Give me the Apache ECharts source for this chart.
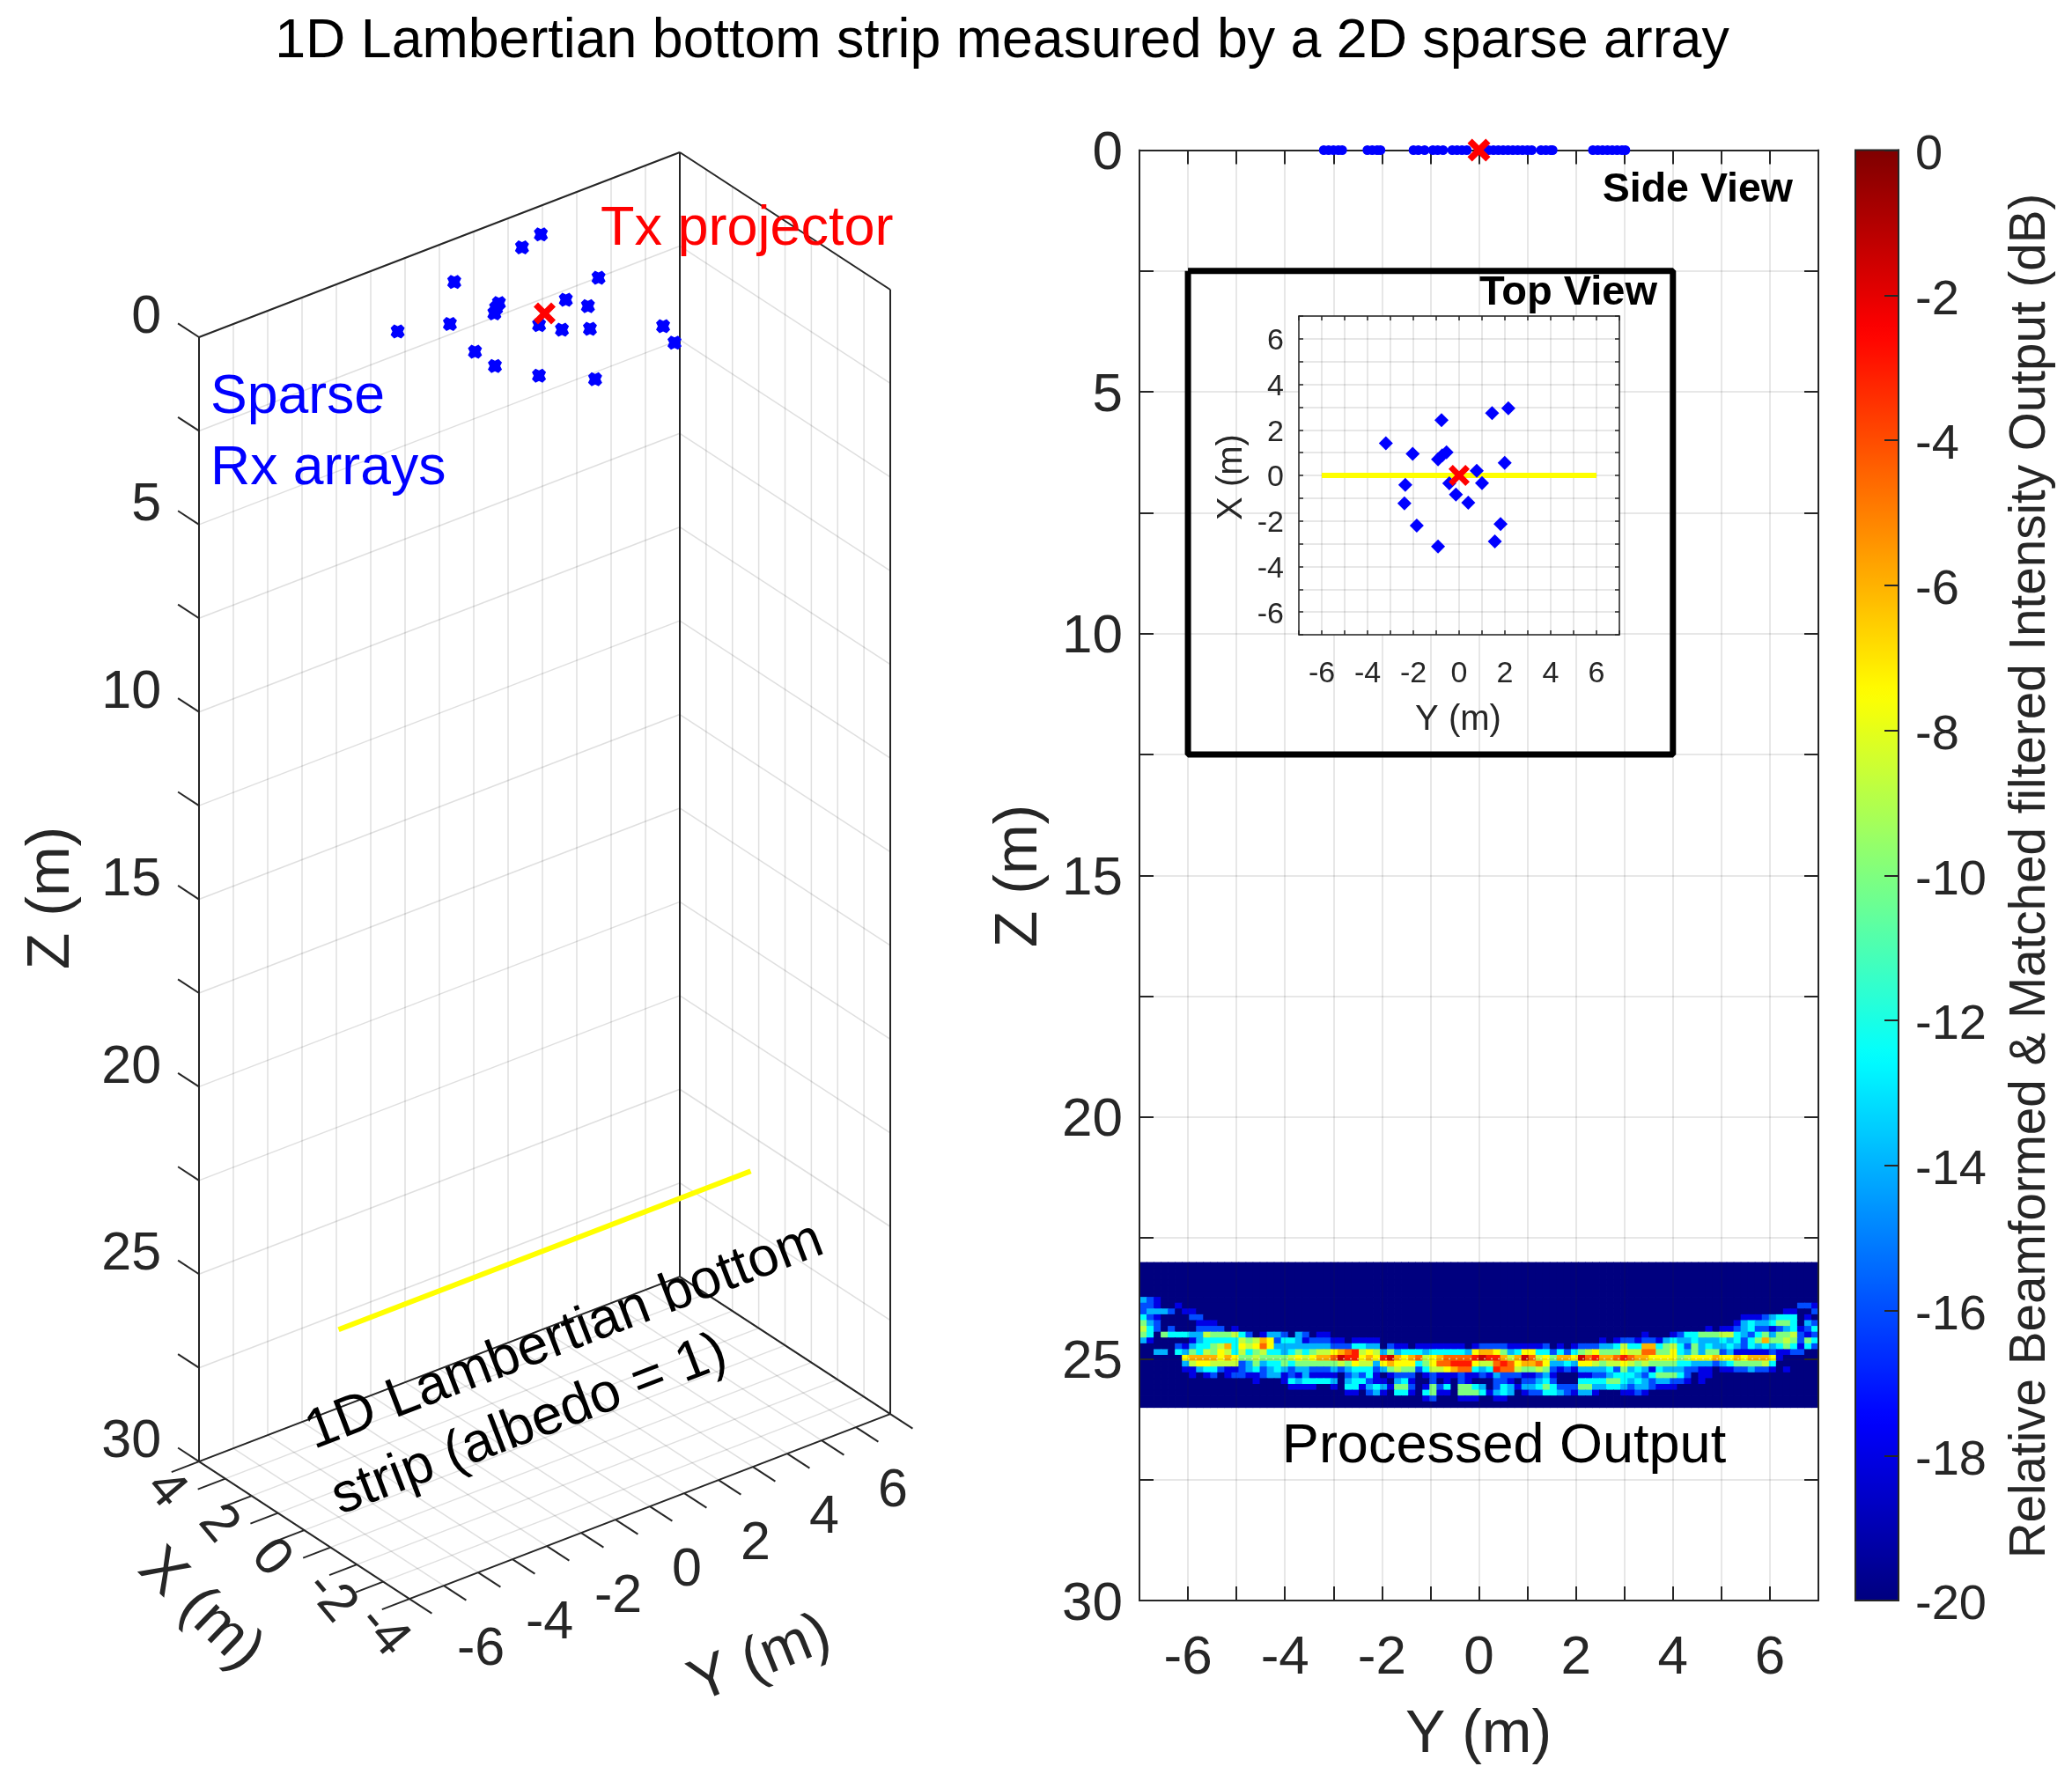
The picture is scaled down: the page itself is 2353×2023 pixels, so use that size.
<!DOCTYPE html>
<html>
<head>
<meta charset="utf-8">
<title>1D Lambertian bottom strip</title>
<script src="https://cdn.jsdelivr.net/npm/echarts@6/dist/echarts.min.js"></script>
<style>
html, body { margin: 0; padding: 0; background: #fff; }
#chart { width: 2353px; height: 2023px; }
</style>
</head>
<body>
<div id="chart"></div>
<script>
// Rx array centres, read from the top view
var rxY = [-3.2, -2.03, -0.77, 1.44, 2.15, -0.55, -0.74, -0.92, 1.99, 0.77, 1.0, -0.43, -2.35, -0.14, 0.4, -2.39, -1.85, 1.81, 1.56, -0.92];
var rxX = [1.41, 0.95, 2.43, 2.74, 2.95, 1.02, 0.88, 0.71, 0.55, 0.2, -0.34, -0.35, -0.42, -0.84, -1.2, -1.23, -2.2, -2.14, -2.9, -3.12];
// elements along Y in the side view
var sideY = [-3.2, -3.1, -3.0, -2.9, -2.82, -2.3, -2.2, -2.1, -2.03, -1.35, -1.25, -1.12, -0.95, -0.85, -0.74, -0.55, -0.45, -0.35, -0.25, 0.08, 0.2, 0.3, 0.4, 0.5, 0.6, 0.7, 0.8, 0.9, 1.0, 1.09, 1.28, 1.38, 1.48, 1.52, 2.35, 2.45, 2.55, 2.65, 2.75, 2.85, 2.95, 3.02];
var txPos = [0, 0, 0];
// bottom strip ends
var stripY = [-6, 6];
var stripX = [0, 0];
var stripZ = [25, 25];
// inset frame in the side view
var frameY = [-6, 4, 4, -6, -6];
var frameZ = [2.5, 2.5, 12.5, 12.5, 2.5];

var ticksX3d = [-4, -3, -2, -1, 0, 1, 2, 3, 4];
var ticksY3d = [-7, -6, -5, -4, -3, -2, -1, 0, 1, 2, 3, 4, 5, 6, 7];
var ticksZ3d = [0, 2.5, 5, 7.5, 10, 12.5, 15, 17.5, 20, 22.5, 25, 27.5, 30];
var labelsX3d = [4, 2, 0, -2, -4];
var labelsY3d = [-6, -4, -2, 0, 2, 4, 6];
var labelsZ3d = [0, 5, 10, 15, 20, 25, 30];

// heat map: 25 rows (Z 23 to 26) x 96 columns (Y -7 to 7), one letter per cell
var levelNames = '.abcdefghijk';
var levelDb = [-20, -18, -16, -14, -12.5, -10, -8.7, -7.5, -6, -4.5, -3, -1.5];
var blankRow = '................................';
var heatLeft = [
    blankRow, blankRow, blankRow, blankRow, blankRow,
    blankRow,
    'cba.............................',
    'bba..a..........................',
    'bcccb.aa........................',
    'dba....bb.......................',
    'ecb.....aaa.....................',
    'fdb.b...bbbb.a..................',
    'ed.edddccfeeefdb.accb.cb.aa.....',
    'ca.....acdddddfefhgbddcabbbaa.aa',
    '.....bacddefhdgfgigccccccccbbbdd',
    '..cc.dcedfegfdfdefddcdedeffghijf',
    '......ghhhhghgeefeeeefgfghhikjjg',
    '......cfggffffbcecddedeeeeeefegf',
    '......aacddbaabcdbcdcbccbbbcbcdd',
    '.......a.ab.abbaabccabacaaaa.bcb',
    '................a...adcddddc.cdd',
    '.....................aaaa..a.dda',
    '.............................aa.',
    blankRow,
    blankRow
];
var heatMid = [
    blankRow, blankRow, blankRow, blankRow, blankRow,
    blankRow, blankRow, blankRow, blankRow, blankRow, blankRow, blankRow, blankRow,
    'aa..............................',
    'cc.baa.aaaaaaa.abbbbaaaaab.a.abb',
    'gfcecdddcdddddcghhgecdggddbdbdef',
    'hgjkhghifghiiiijkjjhfhkifgehhgki',
    'fcghgggdegiijjjgffijighhigccdcgg',
    'dbcefeebdffghiidcdjiifeefebabacc',
    'da.abbb.abaaabaabacbbbaabca...aa',
    'baa.cda..b.a.ba...bba.bbcdb...dd',
    'cdcaeeb.aebd.eedc.bdcaccdedbbbee',
    'bca.dda.deaa.eeedacdc.abbddcbacc',
    '........ab...aaa..aa............',
    blankRow
];
var heatRight = [
    blankRow, blankRow, blankRow, blankRow, blankRow,
    blankRow,
    blankRow,
    '.............................bba',
    '...........................aa..b',
    '.....................aaabcddd.a.',
    '....................acdccdeed.cb',
    '................a.aabcdbbabcdabd',
    '.......a...abddeeeffdcbdeceefbab',
    '.a.abbabbacdccdcccdcdbdeheefebed',
    'bccdfddhhdefdbecdccdcbdcdcdedadb',
    'geeegffiieegdceceebcaaaaabaabb..',
    'jhhijihhggggefggghgghghhhga.....',
    'feffgfefeeeeddcccbcdeeeefd......',
    'ccdbecdcadcccbbaa.aabbcbba.a....',
    'bbcdddcbdeeedb.aa...............',
    'ddeedcdcbccbba.a................',
    'ccddcbccbaaa....................',
    'a...aaba........................',
    blankRow,
    blankRow
];

// layout in page pixels
var mainBox = { left: 1294, top: 170.5, width: 771, height: 1647.5 };
var insetBox = { left: 1475, top: 359, width: 364, height: 362 };
var barBox = { left: 2107, top: 170.5, width: 49, height: 1647.5 };
var zMax = 30;
var heatZ = [23, 26];

var inkColor = '#262626';
var gridColor = 'rgba(38,38,38,0.15)';
var fontName = '"Liberation Sans", Arial, sans-serif';

// orthographic view of the left panel, result is in page pixels
function project(x, y, z) {
    return [618.5 - 29.875 * x + 39 * y, 356 - 19.5 * x - 15 * y + 42.57 * z];
}

function segment(a, b) {
    var p = project(a[0], a[1], a[2]);
    var q = project(b[0], b[1], b[2]);
    return [p[0], p[1], q[0], q[1]];
}

// back walls and floor grid
var wallSegs = [];
ticksY3d.forEach(function (y) {
    wallSegs.push(segment([4, y, 0], [4, y, 30]));
    wallSegs.push(segment([-4, y, 30], [4, y, 30]));
});
ticksX3d.forEach(function (x) {
    wallSegs.push(segment([x, 7, 0], [x, 7, 30]));
    wallSegs.push(segment([x, -7, 30], [x, 7, 30]));
});
ticksZ3d.forEach(function (z) {
    wallSegs.push(segment([4, -7, z], [4, 7, z]));
    wallSegs.push(segment([4, 7, z], [-4, 7, z]));
});

// box edges
var boxSegs = [
    segment([4, -7, 0], [4, -7, 30]),
    segment([4, 7, 0], [4, 7, 30]),
    segment([-4, 7, 0], [-4, 7, 30]),
    segment([4, -7, 0], [4, 7, 0]),
    segment([4, 7, 0], [-4, 7, 0]),
    segment([4, -7, 30], [-4, -7, 30]),
    segment([-4, -7, 30], [-4, 7, 30]),
    segment([-4, 7, 30], [4, 7, 30]),
    segment([4, 7, 30], [4, -7, 30])
];

// outside ticks
var tickSegs = [];
ticksX3d.forEach(function (x) { tickSegs.push(segment([x, -7, 30], [x, -7.8, 30])); });
ticksY3d.forEach(function (y) { tickSegs.push(segment([-4, y, 30], [-4.85, y, 30])); });
ticksZ3d.forEach(function (z) { tickSegs.push(segment([4, -7, z], [4.8, -7, z])); });

// tick label anchors for the left panel
var labels3d = [];
labelsZ3d.forEach(function (z) {
    var p = project(4.8, -7, z);
    labels3d.push([p[0] - 19, p[1] - 6, String(z), 'right', 0]);
});
labelsX3d.forEach(function (x) {
    var p = project(x, -7, 30);
    var neg = x < 0;
    labels3d.push([p[0] + (neg ? -30 : -38), p[1] + (neg ? 37 : 32), String(x), 'center', -50]);
});
labelsY3d.forEach(function (y) {
    var p = project(-4, y, 30);
    labels3d.push([p[0] + 42, p[1] + 73, String(y), 'center', 0]);
});

function segmentSeries(data, color, width, z) {
    return {
        type: 'custom',
        xAxisIndex: 0,
        yAxisIndex: 0,
        coordinateSystem: 'cartesian2d',
        clip: false,
        silent: true,
        z: z,
        data: data,
        renderItem: function (params, api) {
            var a = api.coord([api.value(0), api.value(1)]);
            var b = api.coord([api.value(2), api.value(3)]);
            return {
                type: 'line',
                shape: { x1: a[0], y1: a[1], x2: b[0], y2: b[1] },
                style: { stroke: color, lineWidth: width, fill: null }
            };
        }
    };
}

function evenLabel(v) {
    return v % 2 === 0 ? String(v) : '';
}

function frameAxis(gridIndex, position, min, max, interval, len, width, extra) {
    var axis = {
        type: 'value',
        gridIndex: gridIndex,
        position: position,
        min: min,
        max: max,
        interval: interval,
        z: extra.z,
        inverse: !!extra.inverse,
        axisLine: { show: true, onZero: false, lineStyle: { color: inkColor, width: width } },
        axisTick: { show: true, inside: true, length: len, lineStyle: { color: inkColor, width: width } },
        axisLabel: { show: false },
        splitLine: { show: false }
    };
    if (extra.formatter) {
        axis.axisLabel = {
            show: true,
            formatter: extra.formatter,
            color: inkColor,
            fontSize: extra.fontSize,
            margin: extra.margin,
            fontFamily: fontName,
            showMinLabel: true,
            showMaxLabel: true
        };
        // top anchor with a short line box pushes the digits down to the tick
        if (extra.drop) {
            axis.axisLabel.verticalAlign = 'top';
            axis.axisLabel.lineHeight = extra.drop * 2;
        }
    }
    if (extra.grid) {
        axis.splitLine = { show: true, lineStyle: { color: gridColor, width: 1.5 } };
    }
    return axis;
}

var xAxes = [
    { type: 'value', gridIndex: 0, min: 0, max: 1176, show: false },
    frameAxis(1, 'bottom', -7, 7, 1, 16, 2, { z: 3, grid: true, formatter: evenLabel, fontSize: 62, margin: 35 }),
    frameAxis(1, 'top', -7, 7, 1, 16, 2, { z: 3 }),
    frameAxis(2, 'bottom', -7, 7, 1, 5, 1.5, { z: 6, grid: true, formatter: evenLabel, fontSize: 34, margin: 28 }),
    frameAxis(2, 'top', -7, 7, 1, 5, 1.5, { z: 6 }),
    { type: 'value', gridIndex: 3, min: 0, max: 1, show: false },
    { type: 'category', gridIndex: 4, show: false, data: (heatLeft[0] + heatMid[0] + heatRight[0]).split('').map(function (c, i) { return i; }) }
];
var yAxes = [
    { type: 'value', gridIndex: 0, min: 0, max: 2023, inverse: true, show: false },
    frameAxis(1, 'left', 0, zMax, 2.5, 16, 2, { z: 3, inverse: true, grid: true, fontSize: 62, margin: 19, drop: 4.5, formatter: function (v) { return v % 5 === 0 ? String(v) : ''; } }),
    frameAxis(1, 'right', 0, zMax, 2.5, 16, 2, { z: 3, inverse: true }),
    frameAxis(2, 'left', -7, 7, 1, 5, 1.5, { z: 6, grid: true, formatter: evenLabel, fontSize: 34, margin: 17, drop: 3 }),
    frameAxis(2, 'right', -7, 7, 1, 5, 1.5, { z: 6 }),
    frameAxis(3, 'right', -20, 0, 2, 16, 2, { z: 6, formatter: function (v) { return String(v); }, fontSize: 56, margin: 19, drop: 6 }),
    { type: 'category', gridIndex: 4, show: false, inverse: true, data: heatLeft.map(function (r, i) { return i; }) }
];

// cells of the heat map
var heatCells = [];
heatLeft.forEach(function (row, r) {
    var text = row + heatMid[r] + heatRight[r];
    for (var c = 0; c < text.length; c++) {
        heatCells.push([c, r, levelDb[levelNames.indexOf(text.charAt(c))]]);
    }
});

var xMarkPath = 'path://M-10,-6 L-6,-10 L0,-4 L6,-10 L10,-6 L4,0 L10,6 L6,10 L0,4 L-6,10 L-10,6 L-4,0 Z';
var rxMarkPath = 'path://M-6,-3 L-3,-6 L0,-4.5 L3,-6 L6,-3 L4.5,0 L6,3 L3,6 L0,4.5 L-3,6 L-6,3 L-4.5,0 Z';

var series = [
    segmentSeries(wallSegs, gridColor, 1.5, 1),
    segmentSeries(boxSegs, inkColor, 2, 2),
    segmentSeries(tickSegs, inkColor, 2, 2),
    // strip, left panel
    {
        type: 'line',
        xAxisIndex: 0,
        yAxisIndex: 0,
        symbol: 'none',
        z: 3,
        lineStyle: { color: '#ffff00', width: 6 },
        data: stripY.map(function (y, i) { return project(stripX[i], y, stripZ[i]); })
    },
    // arrays, left panel
    {
        type: 'scatter',
        xAxisIndex: 0,
        yAxisIndex: 0,
        symbol: rxMarkPath,
        symbolSize: 16,
        itemStyle: { color: '#0000ff', opacity: 1 },
        z: 3,
        data: rxY.map(function (y, i) { return project(rxX[i], y, 0); })
    },
    {
        type: 'scatter',
        xAxisIndex: 0,
        yAxisIndex: 0,
        symbol: xMarkPath,
        symbolSize: 25,
        itemStyle: { color: '#ff0000', opacity: 1 },
        z: 4,
        data: [project(txPos[0], txPos[1], txPos[2])]
    },
    // tick labels, left panel
    {
        type: 'custom',
        xAxisIndex: 0,
        yAxisIndex: 0,
        clip: false,
        silent: true,
        z: 5,
        data: labels3d,
        encode: { x: 0, y: 1 },
        renderItem: function (params, api) {
            var item = labels3d[params.dataIndex];
            var p = api.coord([item[0], item[1]]);
            return {
                type: 'text',
                x: p[0],
                y: p[1],
                rotation: item[4] * Math.PI / 180,
                style: { text: item[2], fontSize: 61, fontFamily: fontName, fill: inkColor, align: item[3], verticalAlign: 'middle' }
            };
        }
    },
    // processed output, cells overlap a little so no seams show
    {
        type: 'custom',
        xAxisIndex: 6,
        yAxisIndex: 6,
        z: 2,
        silent: true,
        encode: { x: 0, y: 1 },
        data: heatCells,
        renderItem: function (params, api) {
            var c = api.coord([api.value(0), api.value(1)]);
            var s = api.size([1, 1]);
            return {
                type: 'rect',
                shape: { x: c[0] - s[0] / 2, y: c[1] - s[1] / 2, width: s[0] + 0.8, height: s[1] + 0.8 },
                style: { fill: api.visual('color') }
            };
        }
    },
    {
        type: 'line',
        xAxisIndex: 1,
        yAxisIndex: 1,
        symbol: 'none',
        z: 2.5,
        silent: true,
        lineStyle: { color: 'rgba(255,255,210,0.75)', width: 1.5, type: [2, 6] },
        data: stripY.map(function (y, i) { return [y, stripZ[i]]; })
    },
    // side view markers
    {
        type: 'scatter',
        xAxisIndex: 1,
        yAxisIndex: 1,
        symbol: 'circle',
        symbolSize: 11,
        clip: false,
        z: 4,
        itemStyle: { color: '#0000ff', opacity: 1 },
        data: sideY.map(function (y) { return [y, 0]; })
    },
    {
        type: 'scatter',
        xAxisIndex: 1,
        yAxisIndex: 1,
        symbol: xMarkPath,
        symbolSize: 26,
        clip: false,
        z: 4.5,
        itemStyle: { color: '#ff0000', opacity: 1 },
        data: [[txPos[1], txPos[2]]]
    },
    // frame around the top view
    {
        type: 'line',
        xAxisIndex: 1,
        yAxisIndex: 1,
        symbol: 'none',
        z: 4,
        lineStyle: { color: '#000', width: 7 },
        data: frameY.map(function (y, i) { return [y, frameZ[i]]; })
    },
    // top view
    {
        type: 'scatter',
        xAxisIndex: 3,
        yAxisIndex: 3,
        symbol: 'diamond',
        symbolSize: 16,
        z: 7,
        itemStyle: { color: '#0000ff', opacity: 1 },
        data: rxY.map(function (y, i) { return [y, rxX[i]]; })
    },
    {
        type: 'line',
        xAxisIndex: 3,
        yAxisIndex: 3,
        symbol: 'none',
        z: 6.5,
        lineStyle: { color: '#ffff00', width: 6 },
        data: stripY.map(function (y, i) { return [y, stripX[i]]; })
    },
    {
        type: 'scatter',
        xAxisIndex: 3,
        yAxisIndex: 3,
        symbol: xMarkPath,
        symbolSize: 24,
        z: 8,
        itemStyle: { color: '#ff0000', opacity: 1 },
        data: [[txPos[1], txPos[0]]]
    }
];

function note(text, x, y, size, color, extra) {
    extra = extra || {};
    var rot = (extra.rotate || 0) * Math.PI / 180;
    return {
        type: 'text',
        // middle alignment sits a bit high for these fonts
        x: x + 3.5 * Math.sin(rot),
        y: y + 3.5 * Math.cos(rot),
        z: 30,
        rotation: rot,
        silent: true,
        style: {
            text: text,
            fontSize: size,
            fontWeight: extra.bold ? 'bold' : 'normal',
            fontFamily: fontName,
            fill: color,
            align: extra.align || 'center',
            verticalAlign: 'middle'
        }
    };
}

var notes = [
    note('1D Lambertian bottom strip measured by a 2D sparse array', 1138, 44, 62.7, '#000'),
    note('Tx projector', 682, 257, 63, '#ff0000', { align: 'left' }),
    note('Sparse', 239, 448, 62.5, '#0000ff', { align: 'left' }),
    note('Rx arrays', 239, 529, 62.5, '#0000ff', { align: 'left' }),
    note('1D Lambertian bottom', 640, 1515, 63, '#000', { rotate: 21 }),
    note('strip (albedo = 1)', 600, 1616, 63, '#000', { rotate: 21 }),
    note('Z (m)', 56, 1020, 68, inkColor, { rotate: 90 }),
    note('X (m)', 230, 1826, 68, inkColor, { rotate: -44 }),
    note('Y (m)', 862, 1882, 68, inkColor, { rotate: 22 }),
    note('Z (m)', 1155, 995, 68, inkColor, { rotate: 90 }),
    note('Y (m)', 1679, 1968, 68, inkColor),
    note('Processed Output', 1708, 1640, 63, '#000'),
    note('Side View', 2036, 213, 46.5, '#000', { bold: true, align: 'right' }),
    note('Top View', 1882, 330, 47, '#000', { bold: true, align: 'right' }),
    note('Y (m)', 1656, 814, 40, inkColor),
    note('X (m)', 1395, 542, 40, inkColor, { rotate: 90 }),
    note('Relative Beamformed & Matched filtered Intensity Output (dB)', 2303, 995, 56.6, inkColor, { rotate: 90 })
];

var option = {
    backgroundColor: '#fff',
    animation: false,
    textStyle: { fontFamily: fontName },
    grid: [
        { left: 0, top: 0, width: 1176, height: 2023 },
        { left: mainBox.left, top: mainBox.top, width: mainBox.width, height: mainBox.height },
        { left: insetBox.left, top: insetBox.top, width: insetBox.width, height: insetBox.height, show: true, z: 5, backgroundColor: '#fff', borderWidth: 0 },
        { left: barBox.left, top: barBox.top, width: barBox.width, height: barBox.height, show: true, z: 6, backgroundColor: 'transparent', borderColor: inkColor, borderWidth: 2 },
        {
            left: mainBox.left,
            top: mainBox.top + heatZ[0] / zMax * mainBox.height,
            width: mainBox.width,
            height: (heatZ[1] - heatZ[0]) / zMax * mainBox.height
        }
    ],
    xAxis: xAxes,
    yAxis: yAxes,
    visualMap: {
        type: 'continuous',
        seriesIndex: 7,
        dimension: 2,
        min: -20,
        max: 0,
        calculable: false,
        realtime: false,
        left: barBox.left,
        top: barBox.top,
        padding: 0,
        itemWidth: barBox.width,
        itemHeight: barBox.height,
        text: null,
        showLabel: false,
        z: 4,
        inRange: { color: ['#00007f', '#0000ff', '#007fff', '#00ffff', '#7fff7f', '#ffff00', '#ff7f00', '#ff0000', '#7f0000'] }
    },
    series: series,
    graphic: { elements: notes }
};

var myChart = echarts.init(document.getElementById('chart'));
myChart.setOption(option);
</script>
</body>
</html>
